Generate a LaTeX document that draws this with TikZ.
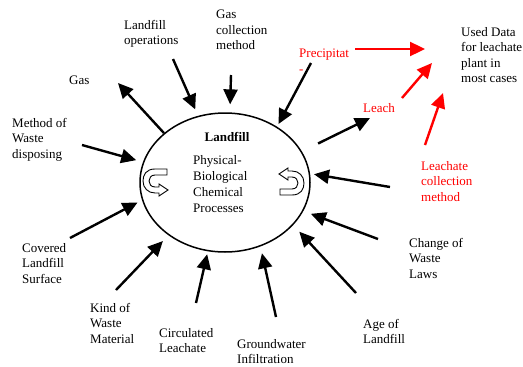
\documentclass[tikz,border=0pt]{standalone}
\usepackage{fontspec}
\setmainfont{Liberation Serif}
\usetikzlibrary{arrows.meta,shapes.geometric}

\tikzset{
  lbl/.style={anchor=north west, inner sep=0pt, align=left, font=\fontsize{13}{15.5}\selectfont},
  redlbl/.style={lbl, text=red},
  arr/.style={line width=2.4pt, -{Triangle[length=15pt,width=14pt]}},
  redarr/.style={arr, red},
  cycarrow/.pic={
    \draw[line width=0.9pt, fill=white]
      (12,-12) -- (0,-12) .. controls (-9,-12) and (-12,-6) .. (-12,0)
      .. controls (-12,7) and (-7,12) .. (0,12) -- (4,12) -- (4,15) -- (13,9)
      -- (4,3) -- (4,6) -- (0,6) .. controls (-4,6) and (-6,3) .. (-6,0)
      .. controls (-6,-3) and (-4,-6) .. (0,-6) -- (12,-6) -- cycle;
  }
}

\begin{document}
\begin{tikzpicture}[x=1pt, y=-1pt]
\useasboundingbox (0,0) rectangle (523,367);

% the landfill
\node[draw, ellipse, line width=1.5pt, minimum width=170pt, minimum height=139pt, inner sep=0pt] (lf) at (225,182.5) {};
\node[inner sep=0pt, font=\fontsize{13}{15.5}\selectfont\bfseries] (title) at (227,137) {Landfill};
\node[lbl, font=\fontsize{13}{16}\selectfont] (proc) at (193,155) {Physical-\\Biological\\Chemical\\Processes};
\pic at (155,181) {cycarrow};
\pic[rotate=180] at (292,183) {cycarrow};

% factors round it
\node[lbl] (gas) at (69,76) {Gas};
\node[lbl] (ops) at (124,20) {Landfill\\operations};
\node[lbl] (gcm) at (216,10) {Gas\\collection\\method};
\node[lbl] (mwd) at (12,118) {Method of\\Waste\\disposing};
\node[lbl] (cls) at (22,243) {Covered\\Landfill\\Surface};
\node[lbl] (kwm) at (90,303) {Kind of\\Waste\\Material};
\node[lbl] (cl) at (159,328) {Circulated\\Leachate};
\node[lbl] (gwi) at (237,339) {Groundwater\\Infiltration};
\node[lbl] (age) at (363,319) {Age of\\Landfill};
\node[lbl] (cwl) at (409,238) {Change of\\Waste\\Laws};
\node[redlbl] (lcm) at (421,161) {Leachate\\collection\\method};
\node[redlbl] (leach) at (363,103) {Leach};
\node[redlbl] (prec) at (299,49) {Precipitat\\-};
\node[lbl] (used) at (461,27) {Used Data\\for leachate\\plant in\\most cases};

% arrow ends
\coordinate (gas-e) at (118,83);
\coordinate (ops-s) at (173,59);
\coordinate (gcm-s) at (231,75);
\coordinate (prec-s) at (311,63);
\coordinate (leach-w) at (370,118);
\coordinate (lcm-w) at (390,187);
\coordinate (cwl-w) at (378,239);
\coordinate (age-n) at (356,293);
\coordinate (gwi-n) at (276,317);
\coordinate (cl-n) at (196,303);
\coordinate (kwm-n) at (116,290);
\coordinate (cls-n) at (70,238);
\coordinate (mwd-e) at (82,145);
\coordinate (prec-e) at (355,49);
\coordinate (leach-e) at (402,98);
\coordinate (lcm-n) at (425,145);
\coordinate (used-a) at (425,49);
\coordinate (used-b) at (432,63);
\coordinate (used-c) at (443,93);

\draw[arr] (lf.141) -- (gas-e);
\draw[arr, shorten >=7pt] (ops-s) -- (lf.112);
\draw[arr, shorten >=8pt] (gcm-s) -- (lf.86);
\draw[arr, shorten >=3pt] (prec-s) -- (lf.47);
\draw[arr, shorten <=18pt] (lf.22) -- (leach-w);
\draw[arr, shorten >=4pt] (lcm-w) -- (lf.6);
\draw[arr, shorten >=8pt] (cwl-w) -- (lf.340);
\draw[arr, shorten >=9pt] (age-n) -- (lf.328);
\draw[arr, shorten >=7pt] (gwi-n) -- (lf.299);
\draw[arr, shorten >=3pt] (cl-n) -- (lf.256);
\draw[arr, shorten >=8pt] (kwm-n) -- (lf.223);
\draw[arr, shorten >=5pt] (cls-n) -- (lf.192);
\draw[arr, shorten >=7pt] (mwd-e) -- (lf.166);

% data used for the leachate plant
\draw[redarr] (prec-e) -- (used-a);
\draw[redarr] (leach-e) -- (used-b);
\draw[redarr] (lcm-n) -- (used-c);
\end{tikzpicture}
\end{document}
